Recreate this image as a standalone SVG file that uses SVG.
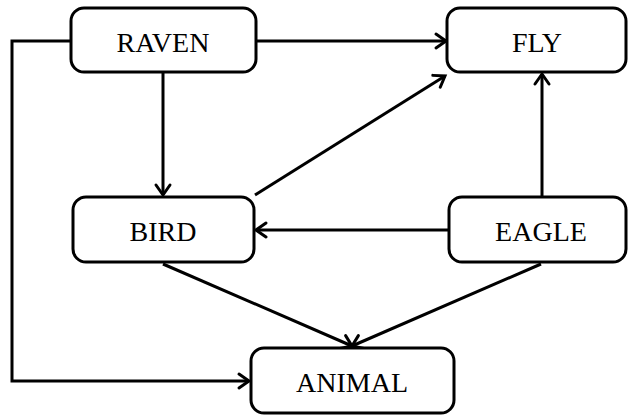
<svg xmlns="http://www.w3.org/2000/svg" width="628" height="415" viewBox="0 0 628 415">
  <style>
    .box { fill: #ffffff; stroke: #000000; stroke-width: 3; }
    .label { font-family: "Liberation Serif", "Times New Roman", serif; font-size: 28px; fill: #000000; text-anchor: middle; }
    .edge { fill: none; stroke: #000000; stroke-width: 3; marker-end: url(#arrow); }
  </style>
  <defs>
    <!-- open chevron arrowhead -->
    <marker id="arrow" markerUnits="userSpaceOnUse" viewBox="-12 -9 14 18" refX="0" refY="0" markerWidth="14" markerHeight="18" orient="auto" overflow="visible">
      <path d="M-10,-7 L0,0 L-10,7" fill="none" stroke="#000000" stroke-width="3" stroke-linecap="round" stroke-linejoin="miter"/>
    </marker>
  </defs>

  <g id="connectors">
    <path class="edge" d="M256,41 H446"/>
    <path class="edge" d="M163,72 V195"/>
    <path class="edge" d="M255,195 L445,76"/>
    <path class="edge" d="M542,197 V74"/>
    <path class="edge" d="M449,230 H256"/>
    <path class="edge" d="M163,264 L352,346"/>
    <path class="edge" d="M541,264 L352,346"/>
    <path class="edge" d="M71,41 H12 V381 H249"/>
  </g>

  <g id="raven">
    <rect class="box" x="71" y="8" width="185" height="64" rx="13"/>
    <text class="label" x="163" y="52">RAVEN</text>
  </g>
  <g id="fly">
    <rect class="box" x="447" y="8" width="179" height="64" rx="13"/>
    <text class="label" x="537" y="52">FLY</text>
  </g>
  <g id="bird">
    <rect class="box" x="73" y="197" width="181" height="65" rx="13"/>
    <text class="label" x="163" y="241">BIRD</text>
  </g>
  <g id="eagle">
    <rect class="box" x="449" y="197" width="177" height="65" rx="13"/>
    <text class="label" x="541" y="241">EAGLE</text>
  </g>
  <g id="animal">
    <rect class="box" x="251" y="348" width="203" height="65" rx="13"/>
    <text class="label" x="352" y="392">ANIMAL</text>
  </g>
</svg>
